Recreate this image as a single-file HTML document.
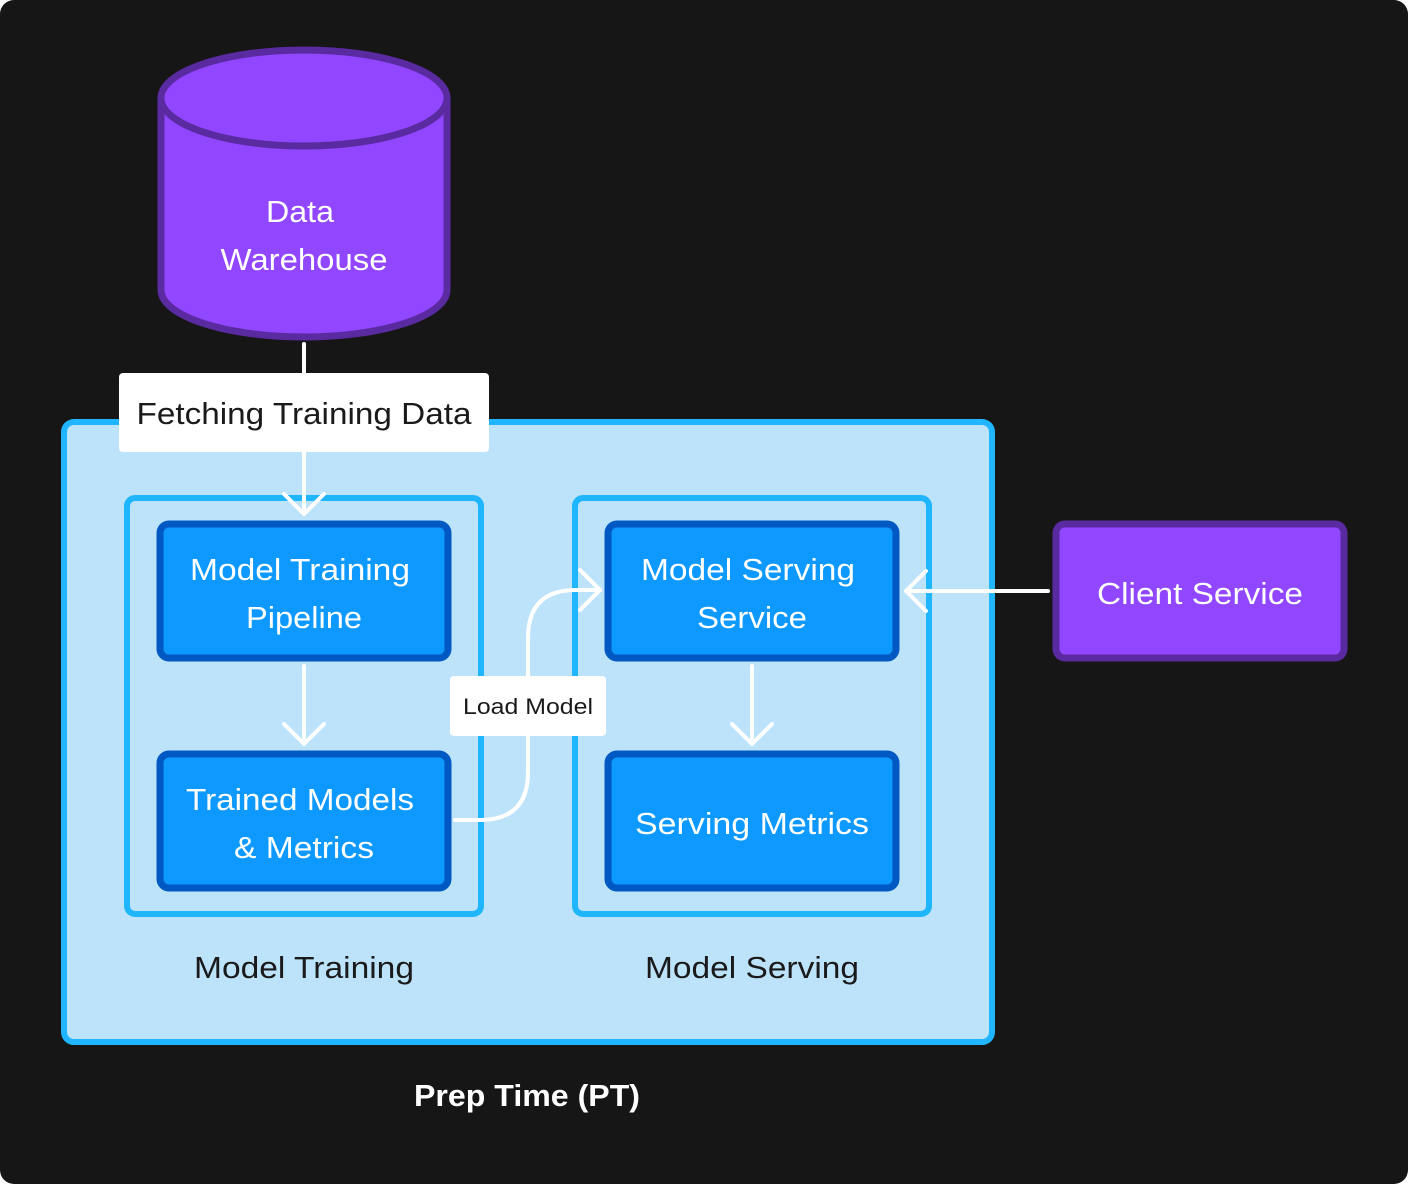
<!DOCTYPE html>
<html><head><style>
html,body{margin:0;padding:0;background:#fff;}
svg{display:block;}
text{font-family:"Liberation Sans",sans-serif;}
</style></head><body>
<svg width="1408" height="1184" viewBox="0 0 1408 1184" xmlns="http://www.w3.org/2000/svg">
<rect x="0" y="0" width="1408" height="1184" rx="14" fill="#161616"/>
<path d="M161,98 L161,290 A143,47 0 0 0 447,290 L447,98" fill="#9146ff" stroke="#5a2aa0" stroke-width="7"/>
<ellipse cx="304" cy="98" rx="143" ry="48" fill="#9146ff" stroke="#5a2aa0" stroke-width="7"/>
<g font-size="31" fill="#fff" text-anchor="middle" lengthAdjust="spacingAndGlyphs">
<text x="300" y="222" textLength="68" lengthAdjust="spacingAndGlyphs">Data</text>
<text x="304" y="270" textLength="167" lengthAdjust="spacingAndGlyphs">Warehouse</text>
</g>
<rect x="64" y="422" width="928" height="620" rx="10" fill="#bde3fb" stroke="#1fb6ff" stroke-width="6"/>
<rect x="127" y="498" width="354" height="416" rx="8" fill="none" stroke="#1fb6ff" stroke-width="6"/>
<rect x="575" y="498" width="354" height="416" rx="8" fill="none" stroke="#1fb6ff" stroke-width="6"/>
<g fill="#0d99ff" stroke="#0059c2" stroke-width="7">
<rect x="160" y="524" width="288" height="134" rx="9"/>
<rect x="160" y="754" width="288" height="134" rx="9"/>
<rect x="608" y="524" width="288" height="134" rx="9"/>
<rect x="608" y="754" width="288" height="134" rx="9"/>
</g>
<rect x="1056" y="524" width="288" height="134" rx="9" fill="#9146ff" stroke="#5a2aa0" stroke-width="7"/>
<g font-size="31" fill="#fff" text-anchor="middle">
<text x="300" y="580" textLength="220" lengthAdjust="spacingAndGlyphs">Model Training</text>
<text x="304" y="628" textLength="116" lengthAdjust="spacingAndGlyphs">Pipeline</text>
<text x="300" y="810" textLength="228" lengthAdjust="spacingAndGlyphs">Trained Models</text>
<text x="304" y="858" textLength="140" lengthAdjust="spacingAndGlyphs">&amp; Metrics</text>
<text x="748" y="580" textLength="214" lengthAdjust="spacingAndGlyphs">Model Serving</text>
<text x="752" y="628" textLength="110" lengthAdjust="spacingAndGlyphs">Service</text>
<text x="752" y="834" textLength="234" lengthAdjust="spacingAndGlyphs">Serving Metrics</text>
<text x="1200" y="604" textLength="206" lengthAdjust="spacingAndGlyphs">Client Service</text>
</g>
<g font-size="31" fill="#1a1a1a" text-anchor="middle">
<text x="304" y="978" textLength="220" lengthAdjust="spacingAndGlyphs">Model Training</text>
<text x="752" y="978" textLength="214" lengthAdjust="spacingAndGlyphs">Model Serving</text>
</g>
<text x="527" y="1106" font-size="31" font-weight="bold" fill="#fff" text-anchor="middle" textLength="226" lengthAdjust="spacingAndGlyphs">Prep Time (PT)</text>
<g fill="none" stroke="#fff" stroke-width="4" stroke-linecap="round" stroke-linejoin="round">
<line x1="304" y1="344" x2="304" y2="514"/>
<polyline points="284,494 304,514 324,494"/>
<line x1="304" y1="666" x2="304" y2="744"/>
<polyline points="284,724 304,744 324,724"/>
<line x1="752" y1="666" x2="752" y2="744"/>
<polyline points="732,724 752,744 772,724"/>
<line x1="1048" y1="591" x2="906" y2="591"/>
<polyline points="926,571 906,591 926,611"/>
<path d="M455,820 L480,820 Q528,820 528,772 L528,638 Q528,590 576,590 L600,590"/>
<polyline points="580,570 600,590 580,610"/>
</g>
<rect x="119" y="373" width="370" height="79" rx="4" fill="#fff"/>
<text x="304" y="424" font-size="31" fill="#1a1a1a" text-anchor="middle" textLength="335" lengthAdjust="spacingAndGlyphs">Fetching Training Data</text>
<rect x="450" y="676" width="156" height="60" rx="4" fill="#fff"/>
<text x="528" y="714" font-size="22" fill="#1a1a1a" text-anchor="middle" textLength="130" lengthAdjust="spacingAndGlyphs">Load Model</text>
</svg>
</body></html>
